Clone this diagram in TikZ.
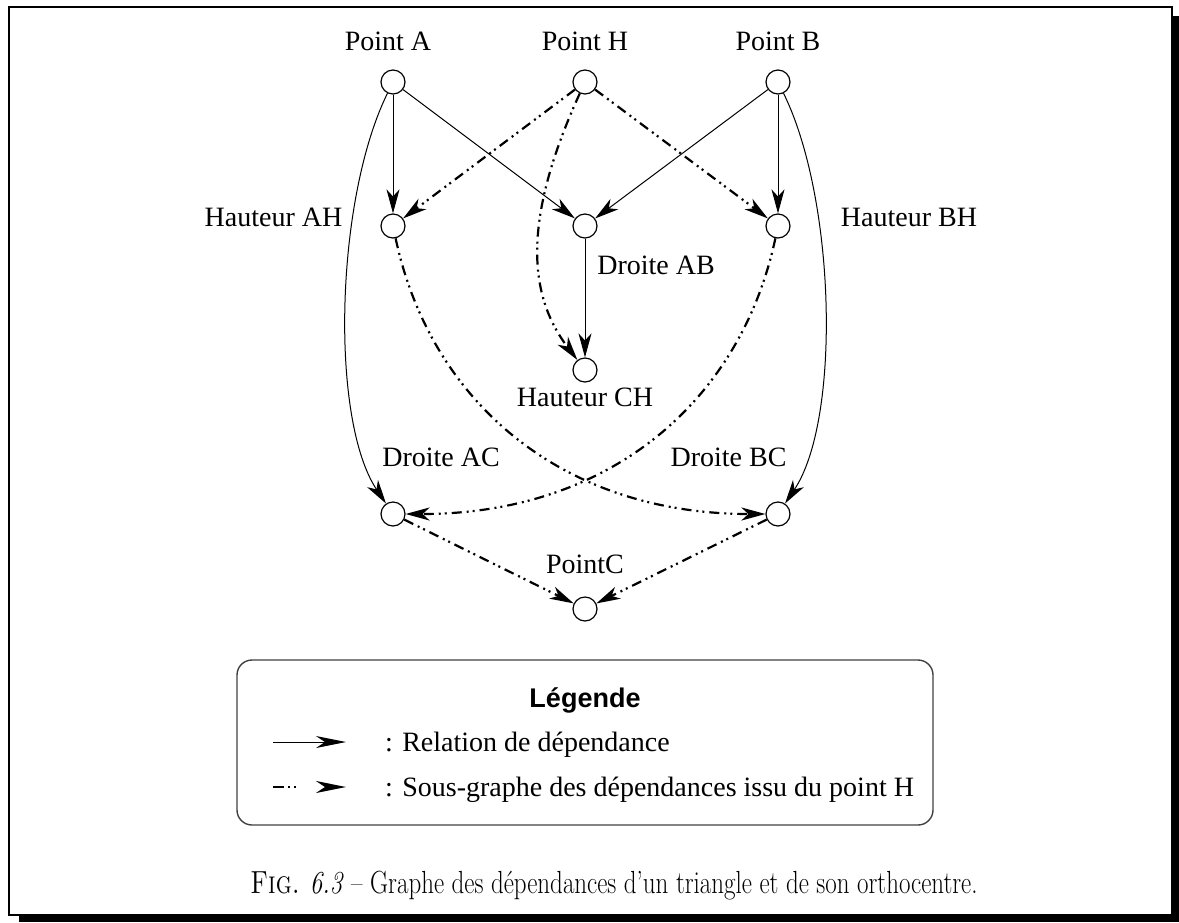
\documentclass[tikz,border=0pt]{standalone}
\usepackage{fontspec}
\newfontfamily\labelfont{Liberation Serif}
\newfontfamily\headfont{Liberation Sans}
\usetikzlibrary{arrows.meta}

\tikzset{
  vertex/.style={circle, draw, line width=1.2pt, minimum size=24pt, inner sep=0pt},
  lbl/.style={font=\labelfont\fontsize{28}{32}\selectfont, inner sep=0pt, anchor=base},
  tip/.style={-{Stealth[length=24pt, width=13pt, inset=7pt]}},
  bigtip/.style={-{Stealth[length=30pt, width=12pt, inset=9pt]}},
  dep/.style={tip, line width=1pt},
  hdep/.style={tip, line width=2.2pt,
    dash pattern=on 10pt off 5pt on 2pt off 4pt on 2pt off 5pt},
  legendbox/.style={draw=black!75, line width=1.4pt, rounded corners=15pt}
}

\begin{document}
\begin{tikzpicture}[x=1pt, y=-1pt]
  \useasboundingbox (0,0) rectangle (1179,922);

  % shadowed frame
  \fill (1173,16) rectangle (1179,922);
  \fill (19,915) rectangle (1179,922);
  \draw[line width=2.5pt] (9,7) rectangle (1172,915);

  % vertices
  \node[vertex] (A)  at (393,82)  {};
  \node[vertex] (H)  at (585,82)  {};
  \node[vertex] (B)  at (778,82)  {};
  \node[vertex] (AH) at (393,226) {};
  \node[vertex] (AB) at (585,226) {};
  \node[vertex] (BH) at (778,226) {};
  \node[vertex] (CH) at (585,370) {};
  \node[vertex] (AC) at (393,514) {};
  \node[vertex] (BC) at (778,514) {};
  \node[vertex] (C)  at (585,609) {};

  % vertex labels
  \node[lbl] (lA)  at (388,50)  {Point A};
  \node[lbl] (lH)  at (585,50)  {Point H};
  \node[lbl] (lB)  at (778,50)  {Point B};
  \node[lbl] (lAH) at (273.5,226) {Hauteur AH};
  \node[lbl] (lBH) at (909,226) {Hauteur BH};
  \node[lbl] (lAB) at (656,274) {Droite AB};
  \node[lbl] (lCH) at (585,406) {Hauteur CH};
  \node[lbl] (lAC) at (441,466) {Droite AC};
  \node[lbl] (lBC) at (728.5,466) {Droite BC};
  \node[lbl] (lC)  at (585,573) {PointC};

  % dependency relations
  \draw[dep] (A) -- (AH);
  \draw[dep] (A) -- (AB);
  \draw[dep] (B) -- (AB);
  \draw[dep] (B) -- (BH);
  \draw[dep] (AB) -- (CH);
  \draw[dep] (A) .. controls (335,200) and (330,420) .. (AC);
  \draw[dep] (B) .. controls (836,200) and (841,420) .. (BC);

  % sub-graph issued from point H
  \draw[hdep] (H) -- (AH);
  \draw[hdep] (H) -- (BH);
  \draw[hdep] (H) .. controls (522,220) and (528,295) .. (CH);
  \draw[hdep] (AH) .. controls (430,400) and (560,514) .. (BC);
  \draw[hdep] (BH) .. controls (741,400) and (611,514) .. (AC);
  \draw[hdep] (AC) -- (C);
  \draw[hdep] (BC) -- (C);

  % legend
  \draw[legendbox] (237,660) rectangle (933,825);
  \node[anchor=base, inner sep=0pt, font=\headfont\bfseries\fontsize{27}{32}\selectfont]
    (lhead) at (585,707) {Légende};
  \coordinate (r1s) at (273,742);
  \coordinate (r1e) at (346,742);
  \coordinate (r2s) at (273,787);
  \coordinate (r2e) at (346,787);
  \draw[bigtip, line width=1pt] (r1s) -- (r1e);
  \draw[bigtip, line width=2.2pt,
    dash pattern=on 11pt off 4pt on 2pt off 4pt on 2pt off 60pt] (r2s) -- (r2e);
  \node[lbl, anchor=base west] (t1) at (385,751) {: Relation de dépendance};
  \node[lbl, anchor=base west] (t2) at (385,796) {: Sous-graphe des dépendances issu du point H};

  % caption
  \node[anchor=base, inner sep=0pt, font=\fontsize{32}{38}\selectfont] (cap) at (614,893)
    {\scalebox{0.78}[1]{\textsc{Fig.} \textit{6.3} -- Graphe des dépendances d'un triangle et de son orthocentre.}};
\end{tikzpicture}
\end{document}
